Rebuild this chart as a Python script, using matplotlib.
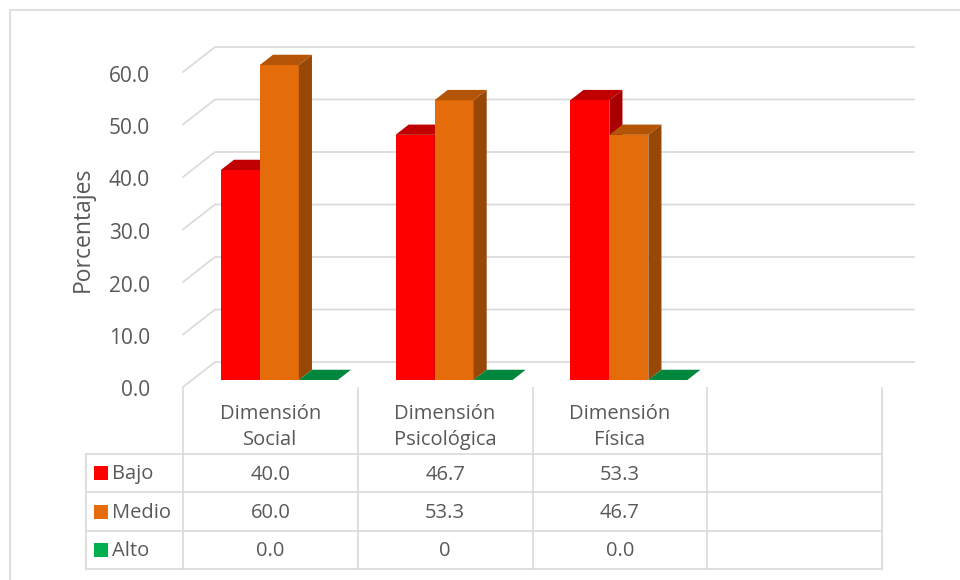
import matplotlib
matplotlib.use("Agg")
from matplotlib import pyplot as plt
from matplotlib.patches import Polygon, Rectangle

plt.rcParams['font.family'] = ['Open Sans', 'DejaVu Sans']

# data
categorias = ["Dimensión\nSocial", "Dimensión\nPsicológica", "Dimensión\nFísica"]
series = ["Bajo", "Medio", "Alto"]
bajo = [40.0, 46.7, 53.3]
medio = [60.0, 53.3, 46.7]
alto = [0.0, 0.0, 0.0]
alto_txt = ["0.0", "0", "0.0"]   # as printed in the table
yticks = [0, 10, 20, 30, 40, 50, 60]

valores = [bajo, medio, alto]
textos = [[f"{v:.1f}" for v in bajo], [f"{v:.1f}" for v in medio], alto_txt]

c_front = ['#FF0000', '#E46C0A', '#00B050']
c_top = ['#C00000', '#B35407', '#00873D']
c_side = ['#A80000', '#974706', '#007A35']
grid_c = '#D9D9D9'
txt_c = '#595959'

# layout (pixels, from top-left)
W, H = 960, 580
X0, SLOT = 183, 174.75   # front-left corner, width of one category slot
Y0, PPU = 387, 5.25      # baseline of the front plane, pixels per unit
NSLOT = 4

fig = plt.figure(figsize=(W / 100, H / 100), dpi=100)
ax = fig.add_axes([0, 0, 1, 1])
ax.set_xlim(-X0 / SLOT, (W - X0) / SLOT)
ax.set_ylim(-(H - Y0) / PPU, Y0 / PPU)
ax.axis('off')

def px(x):
    return (x - X0) / SLOT

def py(y):
    return (Y0 - y) / PPU

# depth of the 3d box
DX, DY = 32 / SLOT, 25 / PPU
lw = 1.2
fs = 14.5

# outer border (only left/top fall inside the picture)
ax.plot([px(10), px(10), px(970)], [py(590), py(10), py(10)], color=grid_c, lw=lw, clip_on=False)

# back wall gridlines + diagonals
for v in yticks:
    ax.plot([0, DX, NSLOT + DX], [v, v + DY, v + DY], color=grid_c, lw=lw, zorder=1)
    ax.text(px(150), v - 4 / PPU, f"{v:.1f}", ha='right', va='center', fontsize=15, color=txt_c)

ax.text(px(83), py(229), "Porcentajes", rotation=90, ha='center', va='center',
        fontsize=16.5, color=txt_c)

# bars
bw = 39 / SLOT
sx, sy = 0.28 * DX, 0.28 * DY
bdx, bdy = 0.41 * DX, 0.41 * DY
for j in range(len(categorias)):
    for i, vals in enumerate(valores):
        v = vals[j]
        xl = j + 0.5 - 1.5 * bw + i * bw + sx
        xr = xl + bw
        if v > 0:
            ax.add_patch(Rectangle((xl, sy), bw, v, facecolor=c_front[i], edgecolor='none', zorder=3))
            ax.add_patch(Polygon([(xr, sy), (xr, sy + v), (xr + bdx, sy + v + bdy), (xr + bdx, sy + bdy)],
                                 closed=True, facecolor=c_side[i], edgecolor='none', zorder=3))
        ax.add_patch(Polygon([(xl, sy + v), (xr, sy + v), (xr + bdx, sy + v + bdy), (xl + bdx, sy + v + bdy)],
                             closed=True, facecolor=c_top[i], edgecolor='none', zorder=3))

# data table
row_y = [454, 492, 531, 569]
col_x = [X0 + SLOT * k for k in range(NSLOT + 1)]
for k, x in enumerate(col_x):
    ax.plot([px(x), px(x)], [py(388), py(569)], color=grid_c, lw=lw, zorder=2)
ax.plot([px(86), px(86)], [py(454), py(569)], color=grid_c, lw=lw, zorder=2)
for y in row_y:
    ax.plot([px(86), px(col_x[-1])], [py(y), py(y)], color=grid_c, lw=lw, zorder=2)

for j, cat in enumerate(categorias):
    ax.text(j + 0.5, py(427), cat, ha='center', va='center', fontsize=fs,
            color=txt_c, linespacing=1.35)

for i, s in enumerate(series):
    yc = (row_y[i] + row_y[i + 1]) / 2
    ax.add_patch(Rectangle((px(94), py(yc + 7)), 14 / SLOT, 14 / PPU,
                           facecolor=c_front[i], edgecolor='none'))
    ax.text(px(112), py(yc + 1.5), s, ha='left', va='center', fontsize=fs, color=txt_c)
    for j in range(len(categorias)):
        ax.text(j + 0.5, py(yc + 1.5), textos[i][j], ha='center', va='center',
                fontsize=fs, color=txt_c)

plt.savefig("out.png", dpi=100)
